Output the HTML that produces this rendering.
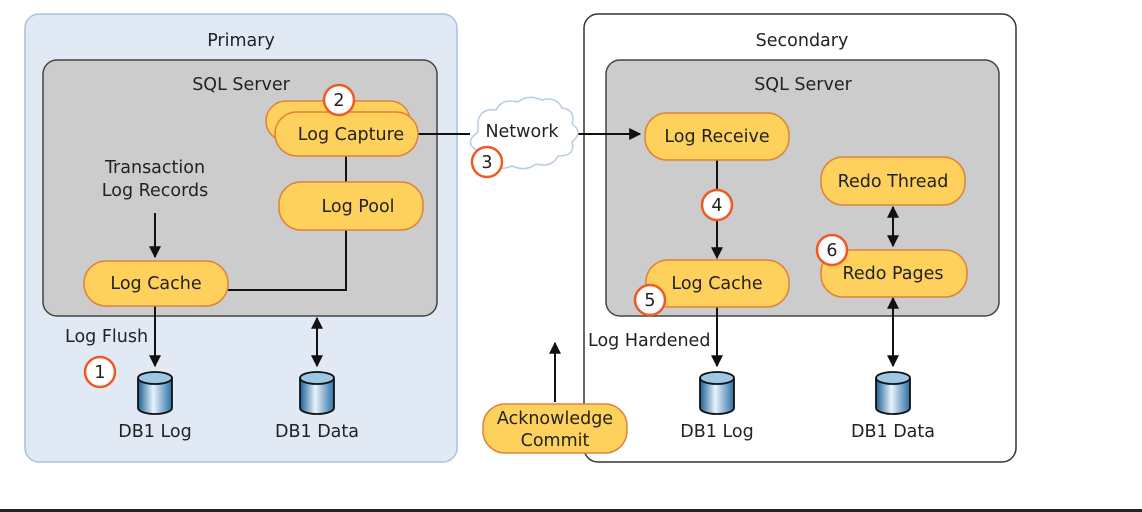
<!DOCTYPE html>
<html><head><meta charset="utf-8"><style>
html,body{margin:0;padding:0;background:#fff;}
svg{display:block;}
text{font-family:"DejaVu Sans","Liberation Sans",sans-serif;font-size:17.5px;fill:#222;}
.p{fill:#fdd15b;stroke:#e0823a;stroke-width:1.5;}
.c{fill:#fff;stroke:#ef5a24;stroke-width:2.5;}
.l{stroke:#111;stroke-width:2;fill:none;}
</style></head><body>
<svg width="1142" height="512" viewBox="0 0 1142 512">
<defs>
<marker id="a" viewBox="0 0 10 10" refX="9" refY="5" markerWidth="6" markerHeight="6" orient="auto-start-reverse"><path d="M0,0L10,5L0,10z" fill="#111"/></marker>
<linearGradient id="g" x1="0" x2="1"><stop offset="0" stop-color="#1b5f95"/><stop offset="0.45" stop-color="#e8f3fb"/><stop offset="1" stop-color="#2b6fa5"/></linearGradient>
<g id="cyl"><path d="M-17,-14 v30 a17,6 0 0 0 34,0 v-30" fill="url(#g)" stroke="#111" stroke-width="1.8"/><ellipse cx="0" cy="-14" rx="17" ry="6" fill="#9cc8e6" stroke="#111" stroke-width="1.8"/></g>
</defs>
<rect x="25" y="14" width="432" height="448" rx="14" fill="#e1e9f5" stroke="#a9c0e0" stroke-width="1.5"/>
<rect x="584" y="14" width="432" height="448" rx="14" fill="#fff" stroke="#333" stroke-width="1.5"/>
<rect x="43" y="60" width="394" height="256" rx="14" fill="#cccccc" stroke="#444" stroke-width="1.5"/>
<rect x="606" y="60" width="393" height="256" rx="14" fill="#cccccc" stroke="#444" stroke-width="1.5"/>
<text x="241" y="46" text-anchor="middle">Primary</text>
<text x="802" y="46" text-anchor="middle">Secondary</text>
<text x="241" y="90" text-anchor="middle">SQL Server</text>
<text x="803" y="90" text-anchor="middle">SQL Server</text>

<path class="l" d="M346,156 V182 M346,230 V290 H228"/>
<path class="l" d="M418,134 H470"/>
<path class="l" d="M570,134 H640" marker-end="url(#a)"/>
<path class="l" d="M155,213 V257" marker-end="url(#a)"/>
<path class="l" d="M155,306 V366" marker-end="url(#a)"/>
<path class="l" d="M317,318 V366" marker-start="url(#a)" marker-end="url(#a)"/>
<path class="l" d="M717,160 V258" marker-end="url(#a)"/>
<path class="l" d="M717,307 V366" marker-end="url(#a)"/>
<path class="l" d="M893,207 V246" marker-start="url(#a)" marker-end="url(#a)"/>
<path class="l" d="M893,298 V366" marker-start="url(#a)" marker-end="url(#a)"/>
<path class="l" d="M555,402 V343" marker-end="url(#a)"/>

<path d="M478,122 q2,-14 18,-12 q6,-12 22,-8 q10,-8 24,-2 q14,-4 20,8 q14,2 10,16 q12,8 0,18 q4,14 -14,14 q-6,12 -22,8 q-10,8 -24,2 q-14,6 -22,-4 q-16,2 -14,-12 q-12,-8 2,-18z" fill="#fff" stroke="#b8cde3" stroke-width="1.5"/>
<text x="522" y="137" text-anchor="middle">Network</text>

<rect class="p" x="266" y="101" width="144" height="40" rx="20"/>
<rect class="p" x="275" y="112" width="143" height="44" rx="22"/>
<text x="351" y="140" text-anchor="middle">Log Capture</text>
<rect class="p" x="279" y="182" width="144" height="48" rx="22"/>
<text x="358" y="212" text-anchor="middle">Log Pool</text>
<rect class="p" x="84" y="261" width="144" height="45" rx="22"/>
<text x="156" y="289" text-anchor="middle">Log Cache</text>
<rect class="p" x="645" y="113" width="144" height="47" rx="22"/>
<text x="717" y="142" text-anchor="middle">Log Receive</text>
<rect class="p" x="821" y="157" width="144" height="48" rx="22"/>
<text x="893" y="187" text-anchor="middle">Redo Thread</text>
<rect class="p" x="646" y="260" width="143" height="47" rx="22"/>
<text x="717" y="289" text-anchor="middle">Log Cache</text>
<rect class="p" x="821" y="250" width="146" height="47" rx="22"/>
<text x="893" y="279" text-anchor="middle">Redo Pages</text>
<rect class="p" x="483" y="404" width="144" height="49" rx="22"/>
<text x="555" y="424" text-anchor="middle">Acknowledge</text>
<text x="555" y="446" text-anchor="middle">Commit</text>

<text x="155" y="173" text-anchor="middle">Transaction</text>
<text x="155" y="196" text-anchor="middle">Log Records</text>
<text x="65" y="342">Log Flush</text>
<text x="588" y="346">Log Hardened</text>

<circle class="c" cx="339" cy="100" r="15"/><text x="339" y="106" text-anchor="middle">2</text>
<circle class="c" cx="487" cy="162" r="15"/><text x="487" y="168" text-anchor="middle">3</text>
<circle class="c" cx="100" cy="372" r="15"/><text x="100" y="378" text-anchor="middle">1</text>
<circle class="c" cx="717" cy="205" r="15"/><text x="717" y="211" text-anchor="middle">4</text>
<circle class="c" cx="650" cy="300" r="15"/><text x="650" y="306" text-anchor="middle">5</text>
<circle class="c" cx="832" cy="250" r="15"/><text x="832" y="256" text-anchor="middle">6</text>

<use href="#cyl" x="155" y="392"/>
<use href="#cyl" x="317" y="392"/>
<use href="#cyl" x="717" y="392"/>
<use href="#cyl" x="893" y="392"/>
<text x="155" y="437" text-anchor="middle">DB1 Log</text>
<text x="317" y="437" text-anchor="middle">DB1 Data</text>
<text x="717" y="437" text-anchor="middle">DB1 Log</text>
<text x="893" y="437" text-anchor="middle">DB1 Data</text>

<rect x="0" y="509" width="1142" height="3" fill="#222"/>
</svg>
</body></html>
